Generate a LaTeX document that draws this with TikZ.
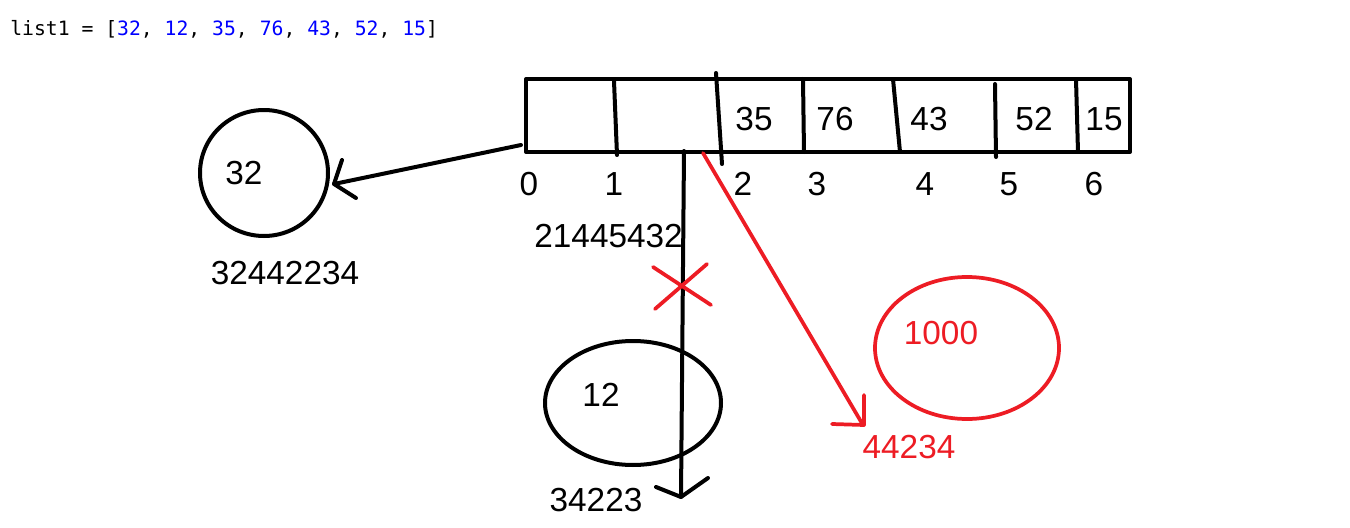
\documentclass[tikz,border=0pt]{standalone}
\usepackage{fontspec}
\setmainfont{Liberation Sans}
\newfontfamily\codefont{DejaVu Sans Mono}
\definecolor{pred}{RGB}{237,28,36}
\definecolor{cblue}{RGB}{0,0,255}
\begin{document}
\begin{tikzpicture}[x=0.75pt,y=-0.75pt,
  ink/.style={line width=3pt,line cap=round,line join=round},
  rink/.style={line width=2.8pt,line cap=round,line join=round,draw=pred},
  big/.style={inner sep=0pt,font=\fontsize{25}{28}\selectfont},
  rbig/.style={big,text=pred}]
\useasboundingbox (0,0) rectangle (1350,528);
% code line
\node[anchor=west,inner sep=0pt,font=\codefont\fontsize{14.8}{16}\selectfont] (code) at (10,29)
  {list1 = [\textcolor{cblue}{32}, \textcolor{cblue}{12}, \textcolor{cblue}{35}, \textcolor{cblue}{76}, \textcolor{cblue}{43}, \textcolor{cblue}{52}, \textcolor{cblue}{15}]};
% array
\draw[ink] (526,79) rectangle (1130,152);
\draw[ink] (614,81) -- (617,155);
\draw[ink] (716,73) -- (722,164);
\draw[ink] (803,79) -- (804,152);
\draw[ink] (893,79) -- (900,152);
\draw[ink] (995,84) -- (996,157);
\draw[ink] (1076,79) -- (1078,152);
\node[big] (c2) at (754,119) {35};
\node[big] (c3) at (835,119) {76};
\node[big] (c4) at (929,119) {43};
\node[big] (c5) at (1034,119) {52};
\node[big] (c6) at (1104,119) {15};
% indices
\node[big] (i0) at (529,184) {0};
\node[big] (i1) at (614,184) {1};
\node[big] (i2) at (743,184) {2};
\node[big] (i3) at (817,184) {3};
\node[big] (i4) at (925,184) {4};
\node[big] (i5) at (1009,184) {5};
\node[big] (i6) at (1094,184) {6};
% circle 32
\draw[ink] (264,173) ellipse [x radius=64, y radius=63];
\node[big] (v32) at (244,173) {32};
\node[big] (a32) at (285,273) {32442234};
\coordinate (s0) at (521,145);
\coordinate (t0) at (334,184);
\draw[ink] (s0) -- (t0);
\draw[ink] (342,160) -- (t0) -- (356,198);
% element 1 pointer
\node[big,anchor=east] (a1) at (683,236) {21445432};
\draw[ink] (633,403) ellipse [x radius=88, y radius=62];
\node[big] (v12) at (601,395) {12};
\node[big] (a12) at (596,500) {34223};
\coordinate (s1) at (684,151);
\coordinate (t1) at (681,497);
\draw[ink] (s1) -- (t1);
\draw[ink] (656,487) -- (t1) -- (708,478);
% red X
\draw[rink] (653,267) -- (711,305);
\draw[rink] (655,309) -- (707,264);
% red pointer
\draw[rink] (967,348) ellipse [x radius=92, y radius=71];
\node[rbig] (v1000) at (941,333) {1000};
\node[rbig] (a1000) at (909,447) {44234};
\coordinate (s2) at (703,153);
\coordinate (t2) at (863,425);
\draw[rink] (s2) -- (t2);
\draw[rink] (832,424) -- (864,425) -- (864,395);
\end{tikzpicture}
\end{document}
